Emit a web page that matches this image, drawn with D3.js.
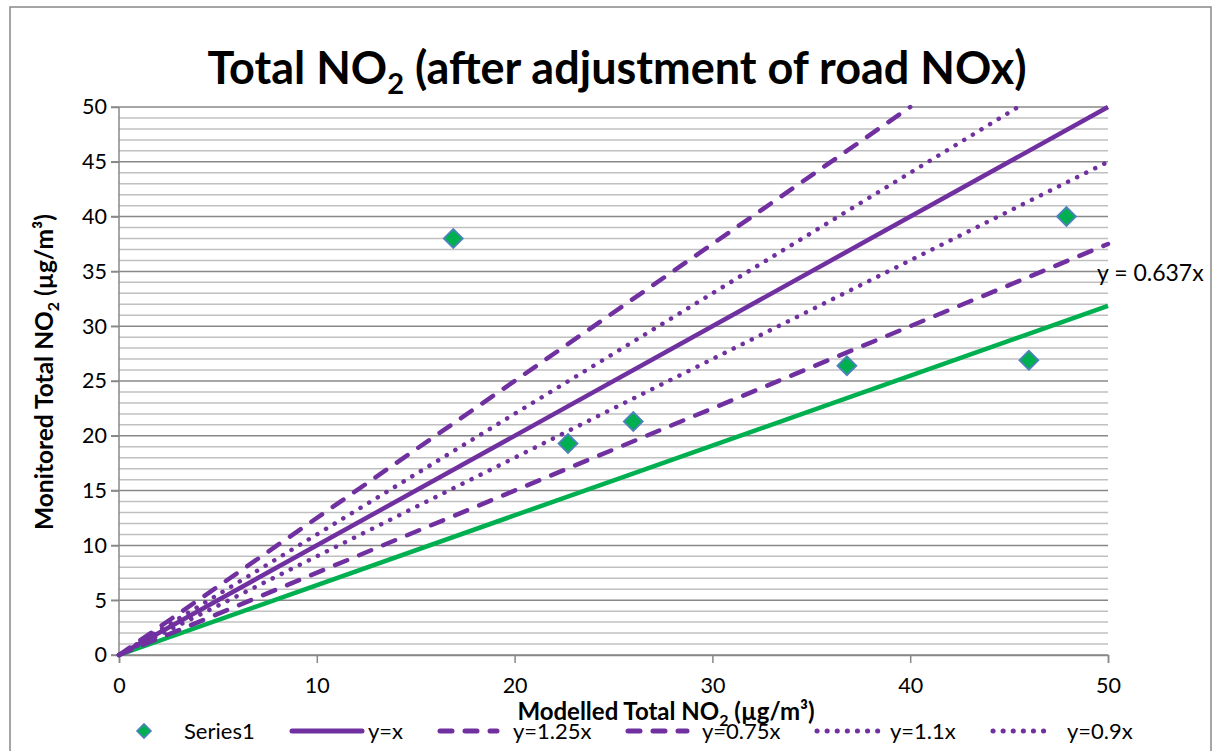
<!DOCTYPE html>
<meta charset="utf-8">
<script src="https://d3js.org/d3.v7.min.js"></script>
<style>
  body { margin: 0; background: #fff; }
  text { font-family: Lato, "Open Sans", sans-serif; fill: #000; }
</style>
<body>
<div id="chart"></div>
<script>
// measured points (modelled, monitored)
var modelled = [16.9, 22.7, 26.0, 36.8, 46.0, 47.9];
var monitored = [38.0, 19.3, 21.3, 26.4, 26.9, 40.0];

// reference lines
var lineNames = ["y=x", "y=1.25x", "y=0.75x", "y=1.1x", "y=0.9x"];
var lineSlopes = [1, 1.25, 0.75, 1.1, 0.9];
var lineStyles = ["solid", "dash", "dash", "dot", "dot"];

// trendline
var trendSlope = 0.637;
var trendLabel = "y = 0.637x";

var xTicks = [0, 10, 20, 30, 40, 50];
var yTicks = [0, 5, 10, 15, 20, 25, 30, 35, 40, 45, 50];

var W = 1213, H = 751;
var margin = { top: 107, left: 119, right: 105, bottom: 96 };
var width = W - margin.left - margin.right,
    height = H - margin.top - margin.bottom;

var purple = "#7030A0", green = "#00B050";

var svg = d3.select("#chart").append("svg")
  .attr("width", W).attr("height", H);

// outer chart frame
svg.append("rect")
  .attr("x", 10).attr("y", 7).attr("width", 1201).attr("height", 760)
  .attr("fill", "none").attr("stroke", "#888").attr("stroke-width", 1.5);

var g = svg.append("g")
  .attr("transform", "translate(" + margin.left + "," + margin.top + ")");

var x = d3.scaleLinear().domain([0, 50]).range([0, width]);
var y = d3.scaleLinear().domain([0, 50]).range([height, 0]);

// minor gridlines
g.append("g").selectAll("line")
  .data(d3.range(0, 51, 1).filter(function (d) { return d % 5 != 0; }))
  .enter().append("line")
  .attr("x1", 0).attr("x2", width)
  .attr("y1", function (d) { return y(d); }).attr("y2", function (d) { return y(d); })
  .attr("stroke", "#c0c0c0").attr("stroke-width", 1.5);

// major gridlines
g.append("g").selectAll("line")
  .data(yTicks)
  .enter().append("line")
  .attr("x1", -8).attr("x2", width)
  .attr("y1", function (d) { return y(d); }).attr("y2", function (d) { return y(d); })
  .attr("stroke", "#888").attr("stroke-width", 1.5);

// axes
var yAxis = g.append("g")
  .call(d3.axisLeft(y).tickValues(yTicks).tickSize(8).tickPadding(4));
var xAxis = g.append("g")
  .attr("transform", "translate(0," + height + ")")
  .call(d3.axisBottom(x).tickValues(xTicks).tickSize(8).tickPadding(15));
[xAxis, yAxis].forEach(function (a) {
  a.selectAll("path, line").attr("stroke", "#888").attr("stroke-width", 1.5);
  a.selectAll("text").style("font-size", "21.5px").style("font-family", "Lato, sans-serif");
});
yAxis.select(".domain").remove();
g.append("line").attr("x1", 0).attr("x2", 0).attr("y1", 0).attr("y2", height)
  .attr("stroke", "#888").attr("stroke-width", 1.5);

// clip for reference lines
svg.append("clipPath").attr("id", "plotclip")
  .append("rect").attr("x", -3).attr("y", -3).attr("width", width + 6).attr("height", height + 6);

function dashFor(style) {
  if (style == "dash") return "13,13";
  if (style == "dot") return "0.1,10";
  return null;
}

var lines = g.append("g").attr("clip-path", "url(#plotclip)");

// trendline (behind)
lines.append("line")
  .attr("x1", x(0)).attr("y1", y(0))
  .attr("x2", x(50)).attr("y2", y(50 * trendSlope))
  .attr("stroke", green).attr("stroke-width", 4.5);

lineSlopes.forEach(function (k, i) {
  var xe = Math.min(50, 50 / k);
  lines.append("line")
    .attr("x1", x(0)).attr("y1", y(0))
    .attr("x2", x(xe)).attr("y2", y(xe * k))
    .attr("stroke", purple).attr("stroke-width", 4.5)
    .attr("stroke-linecap", lineStyles[i] == "solid" ? "butt" : "round")
    .attr("stroke-dasharray", dashFor(lineStyles[i]));
});

// points
var diamond = d3.symbol().type(d3.symbolSquare).size(180);
g.append("g").selectAll("path")
  .data(modelled)
  .enter().append("path")
  .attr("d", diamond)
  .attr("transform", function (d, i) {
    return "translate(" + x(d) + "," + y(monitored[i]) + ") rotate(45)";
  })
  .attr("fill", green).attr("stroke", "#4F81BD").attr("stroke-width", 1.8);

// trendline label
svg.append("text")
  .attr("x", 1097).attr("y", 281)
  .style("font-size", "23px")
  .text(trendLabel);

// title
var title = svg.append("text")
  .attr("x", 617).attr("y", 84)
  .attr("text-anchor", "middle")
  .style("font-size", "45px").style("font-weight", "bold");
title.append("tspan").text("Total NO");
title.append("tspan").text("2").attr("dy", 10).style("font-size", "29px");
title.append("tspan").text(" (after adjustment of road NOx)").attr("dy", -10);

// axis titles
var xt = svg.append("text")
  .attr("x", 666).attr("y", 720)
  .attr("text-anchor", "middle")
  .style("font-size", "24px").style("font-weight", "bold");
xt.append("tspan").text("Modelled Total NO");
xt.append("tspan").text("2").attr("dy", 6).style("font-size", "16px");
xt.append("tspan").text(" (µg/m³)").attr("dy", -6);

var yt = svg.append("text")
  .attr("transform", "translate(53,372) rotate(-90)")
  .attr("text-anchor", "middle")
  .style("font-size", "24.5px").style("font-weight", "bold");
yt.append("tspan").text("Monitored Total NO");
yt.append("tspan").text("2").attr("dy", 6).style("font-size", "16px");
yt.append("tspan").text(" (µg/m³)").attr("dy", -6);

// legend
var legY = 731;
var leg = svg.append("g");
leg.append("path")
  .attr("d", d3.symbol().type(d3.symbolSquare).size(100))
  .attr("transform", "translate(144," + legY + ") rotate(45)")
  .attr("fill", green).attr("stroke", "#4F81BD").attr("stroke-width", 1.5);
leg.append("text").attr("x", 184).attr("y", legY + 8)
  .style("font-size", "22px").text("Series1");

var legLineX = [292, 436, 624, 813, 989];
var legLineW = [70, 61, 63, 65, 64];
var legTextX = [368, 513, 702, 890, 1067];
lineNames.forEach(function (name, i) {
  var st = lineStyles[i];
  leg.append("line")
    .attr("x1", legLineX[i] + (st == "solid" ? 0 : 4)).attr("x2", legLineX[i] + legLineW[i])
    .attr("y1", legY).attr("y2", legY)
    .attr("stroke", purple).attr("stroke-width", 5)
    .attr("stroke-linecap", "round")
    .attr("stroke-dasharray", st == "dash" ? "12,13" : dashFor(st));
  leg.append("text").attr("x", legTextX[i]).attr("y", legY + 8)
    .style("font-size", "22px").text(name);
});
</script>
</body>
